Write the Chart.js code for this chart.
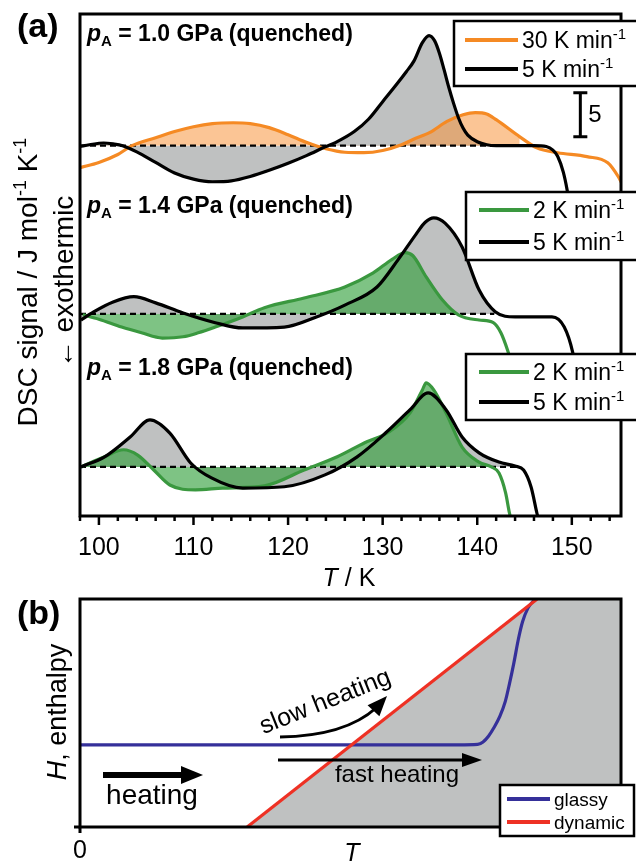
<!DOCTYPE html>
<html>
<head>
<meta charset="utf-8">
<script src="https://cdn.jsdelivr.net/npm/chart.js@4.4.1/dist/chart.umd.min.js"></script>
<style>
  html, body { margin: 0; padding: 0; background: #fff; }
  #wrap { position: relative; width: 636px; height: 862px; overflow: hidden; }
  canvas { position: absolute; left: 0; }
</style>
</head>
<body>
<div id="wrap">
  <canvas id="dsc" width="636" height="590" style="top:0;width:636px;height:590px"></canvas>
  <canvas id="enthalpy" width="636" height="272" style="top:590px;width:636px;height:272px"></canvas>
</div>
<script>
// ---------- (a) DSC scans, signal relative to each panel's baseline ----------
// p_A = 1.0 GPa, 30 K/min
const t10Fast = [98, 100, 102, 103.5, 106, 108, 110, 112, 114.2, 116, 118, 120, 122, 124, 126, 128, 130, 132, 133.2, 135, 136.8, 138.5, 139.8, 141, 142, 144.5, 146.3, 148.5, 151.6, 153.8, 154.9, 155.4];
const s10Fast = [-2.5, -1.9, -1.0, 0, 0.9, 1.6, 2.15, 2.5, 2.6, 2.5, 2.05, 1.25, 0.35, -0.35, -0.75, -0.8, -0.55, 0.1, 0.7, 1.5, 2.75, 3.5, 3.75, 3.6, 2.95, 1.0, -0.25, -0.8, -1.25, -1.95, -3.5, -4.5];
// p_A = 1.0 GPa, 5 K/min
const t10Ref = [98, 99, 100.5, 101.5, 102.5, 104, 106, 108, 110, 112, 114, 116, 118, 120, 122, 124, 125, 127, 128.5, 130, 131.5, 132.5, 133.3, 134.2, 134.9, 135.5, 136, 136.5, 137, 137.5, 138, 138.5, 139, 140, 141, 142, 146, 147.3, 148, 148.5, 149.1, 149.5, 149.8];
const s10Ref = [-0.1, 0.1, 0.3, 0.2, 0, -0.7, -1.9, -3.1, -3.8, -4.1, -4.0, -3.5, -2.8, -2.0, -1.1, -0.1, 0.35, 1.6, 3.0, 5.0, 7.0, 8.4, 9.6, 11.7, 12.5, 11.9, 10.5, 8.6, 6.6, 4.8, 3.2, 2.0, 1.2, 0.45, 0.1, 0, 0, -0.1, -0.5, -1.2, -3.0, -5.0, -7.0];
// p_A = 1.4 GPa, 2 K/min
const t14Slow = [98.3, 100, 102.4, 104.5, 106.7, 108.9, 110.5, 112.3, 115.2, 117.5, 121.7, 126, 129, 131, 132.4, 133.2, 134.6, 136.3, 138, 140.2, 141.7, 142.5, 143.2, 143.6];
const s14Slow = [-0.1, -0.6, -1.5, -2.15, -2.75, -2.6, -2.15, -1.5, -0.35, 0.7, 1.8, 3.05, 4.65, 6.2, 6.95, 6.6, 4.2, 1.6, -0.1, -0.7, -1.0, -2.15, -4.1, -5.5];
// p_A = 1.4 GPa, 5 K/min
const t14Ref = [98.1, 99.4, 101.5, 103.7, 106, 108.9, 112.3, 115.2, 119.6, 123, 126, 129.4, 131.6, 133.5, 134.5, 135.4, 136.6, 138.4, 140.2, 141.9, 144, 147.9, 149.2, 150.1, 150.6];
const s14Ref = [-0.7, 0.2, 1.35, 1.95, 1.25, 0.1, -1.0, -1.6, -1.5, -0.35, 1.0, 3.05, 6.1, 9.0, 10.4, 10.9, 10.3, 7.6, 2.7, 0.25, -0.35, -0.35, -1.5, -4.4, -7.5];
// p_A = 1.8 GPa, 2 K/min
const t18Slow = [98.1, 100.6, 102.6, 104.1, 105.8, 107.5, 110.2, 113.1, 117.5, 121.7, 125.2, 128.1, 130.7, 132.9, 134.2, 134.6, 135.4, 136.7, 138.4, 140.2, 141.5, 142.3, 143, 143.4, 143.7];
const s18Slow = [0, 1.15, 1.95, 1.35, -0.35, -2.05, -2.6, -2.4, -2.15, -0.35, 1.15, 2.75, 4.0, 6.15, 8.75, 9.55, 8.75, 6.15, 2.25, 0.55, 0, -0.7, -2.95, -5.2, -6.5];
// p_A = 1.8 GPa, 5 K/min
const t18Ref = [98.1, 100.6, 103.3, 105.4, 107.5, 109.7, 111.9, 115.2, 119.6, 123.9, 127.3, 130.3, 132.9, 134.8, 136.7, 138.4, 140.2, 142.3, 144, 144.9, 145.7, 146.3, 146.6];
const s18Ref = [0, 1.15, 3.4, 5.35, 3.85, 0.45, -1.25, -2.4, -2.25, -0.9, 1.15, 3.85, 6.5, 8.4, 6.5, 3.4, 1.6, 0.55, 0.1, -0.35, -2.3, -5.2, -6.5];

const pressures = ['1.0', '1.4', '1.8'];          // GPa
const panelOffsets = [42.05, 22.95, 5.57];         // vertical shift of each panel
const baselineStart = 98;
const baselineEnds = [146, 141.8, 144.5];
const rateLabels = [['30 K min', '5 K min'], ['2 K min', '5 K min'], ['2 K min', '5 K min']];
const xTickValues = [100, 110, 120, 130, 140, 150];
const scaleBarSize = 5;

// ---------- (b) schematic ----------
const glassyT = [0, 70, 73.5, 74.5, 75.5, 76.5, 77.6, 78.6, 79.4, 80.2, 81, 81.8, 82.8, 84.1];
const glassyH = [36, 36, 36.2, 37.3, 39.8, 43.5, 48.5, 55, 63, 72, 82, 90, 96, 100];
const dynamicT = [30.9, 84.5];
const dynamicH = [0, 100];
const regionT = [30.9, 84.5, 100];
const regionH = [0, 100, 100];

const FONT = "'Liberation Sans', Arial, Helvetica, sans-serif";
const ORANGE = '#f58a24', ORANGE_FILL = 'rgba(247,150,62,0.55)';
const GREEN = '#3a983f', GREEN_FILL = 'rgba(46,158,56,0.62)';
const GRAY = '#bfc1c1';
const RED = '#ee3124', BLUE = '#35309a';
const NONE = 'rgba(0,0,0,0)';

const toPoints = (ts, ss, off) => ts.map((t, i) => ({x: t, y: ss[i] + off}));

// fillEnd: where the shaded area stops (scan leaves the baseline)
const curves = [
  {panel: 0, t: t10Fast, s: s10Fast, color: ORANGE, fill: ORANGE_FILL, below: false, black: false, fillEnd: 146},
  {panel: 0, t: t10Ref,  s: s10Ref,  color: '#000', fill: GRAY, below: true, black: true, fillEnd: 146},
  {panel: 1, t: t14Slow, s: s14Slow, color: GREEN,  fill: GREEN_FILL, below: true, black: false, fillEnd: 138},
  {panel: 1, t: t14Ref,  s: s14Ref,  color: '#000', fill: GRAY, below: true, black: true, fillEnd: 141.9},
  {panel: 2, t: t18Slow, s: s18Slow, color: GREEN,  fill: GREEN_FILL, below: true, black: false, fillEnd: 141.5},
  {panel: 2, t: t18Ref,  s: s18Ref,  color: '#000', fill: GRAY, below: true, black: true, fillEnd: 144}
];

const dscDatasets = [];
curves.forEach(c => {
  const off = panelOffsets[c.panel];
  const pts = toPoints(c.t, c.s, off);
  // shaded area between scan and baseline
  dscDatasets.push({
    data: pts.filter(p => p.x <= c.fillEnd),
    borderWidth: 0,
    pointRadius: 0,
    cubicInterpolationMode: 'monotone',
    fill: {target: {value: off}, above: c.fill, below: c.below ? c.fill : NONE},
    order: c.black ? 50 : 40
  });
  // the scan itself
  dscDatasets.push({
    data: pts,
    borderColor: c.color,
    borderWidth: 3.2,
    pointRadius: 0,
    cubicInterpolationMode: 'monotone',
    fill: false,
    order: c.black ? 10 : 20
  });
});
panelOffsets.forEach((off, i) => {
  dscDatasets.push({
    data: [{x: baselineStart, y: off}, {x: baselineEnds[i], y: off}],
    borderColor: '#000',
    borderWidth: 2.2,
    borderDash: [6, 4],
    pointRadius: 0,
    fill: false,
    order: 30
  });
});

// draw text made of pieces with different fonts / offsets
function richWidth(ctx, parts) {
  let w = 0;
  parts.forEach(p => { ctx.font = p.f; w += ctx.measureText(p.t).width; });
  return w;
}
function drawRich(ctx, parts, x, y, align) {
  let cx = x;
  const w = richWidth(ctx, parts);
  if (align === 'center') cx = x - w / 2;
  ctx.textAlign = 'left';
  ctx.textBaseline = 'alphabetic';
  parts.forEach(p => {
    ctx.font = p.f;
    ctx.fillText(p.t, cx, y + (p.dy || 0));
    cx += ctx.measureText(p.t).width;
  });
}
function legendBox(ctx, x0, y0, w, h, items, lineX0, lineX1, textX, size) {
  ctx.fillStyle = '#fff';
  ctx.fillRect(x0, y0, w, h);
  ctx.lineWidth = 2.5;
  ctx.strokeStyle = '#000';
  ctx.strokeRect(x0, y0, w, h);
  items.forEach(it => {
    ctx.strokeStyle = it.color;
    ctx.lineWidth = 4;
    ctx.beginPath();
    ctx.moveTo(lineX0, it.y);
    ctx.lineTo(lineX1, it.y);
    ctx.stroke();
    ctx.fillStyle = '#000';
    drawRich(ctx, it.parts, textX, it.y + size * 0.36, 'left');
  });
}

const dscDecor = {
  id: 'dscDecor',
  afterDraw(chart) {
    const {ctx, chartArea: a, scales: {x, y}} = chart;
    ctx.save();
    ctx.fillStyle = '#000';
    ctx.strokeStyle = '#000';

    // frame
    ctx.lineWidth = 3;
    ctx.strokeRect(a.left, a.top, a.right - a.left, a.bottom - a.top);

    // tick marks (outward)
    ctx.lineWidth = 2.5;
    for (let v = 98; v <= 155; v += 2) {
      const px = x.getPixelForValue(v);
      const len = xTickValues.includes(v) ? 9 : 5;
      ctx.beginPath();
      ctx.moveTo(px, a.bottom);
      ctx.lineTo(px, a.bottom + len);
      ctx.stroke();
    }

    // scale bar
    const sbx = x.getPixelForValue(150.9);
    const sb0 = y.getPixelForValue(43.07);
    const sb1 = y.getPixelForValue(43.07 + scaleBarSize);
    ctx.lineWidth = 3;
    ctx.beginPath();
    ctx.moveTo(sbx, sb0); ctx.lineTo(sbx, sb1);
    ctx.moveTo(sbx - 7, sb0); ctx.lineTo(sbx + 7, sb0);
    ctx.moveTo(sbx - 7, sb1); ctx.lineTo(sbx + 7, sb1);
    ctx.stroke();
    ctx.font = '24px ' + FONT;
    ctx.textAlign = 'left';
    ctx.textBaseline = 'middle';
    ctx.fillText(String(scaleBarSize), sbx + 8, (sb0 + sb1) / 2 + 1);

    // panel captions
    const capBase = [41, 213, 375];
    pressures.forEach((p, i) => {
      drawRich(ctx, [
        {t: 'p', f: 'italic bold 23px ' + FONT},
        {t: 'A', f: 'bold 15px ' + FONT, dy: 5},
        {t: ' = ' + p + ' GPa (quenched)', f: 'bold 23px ' + FONT}
      ], 87, capBase[i], 'left');
    });

    // legends
    const sup = s => [{t: s, f: '23px ' + FONT}, {t: '-1', f: '15px ' + FONT, dy: -9}];
    const colors = [[ORANGE, '#000'], [GREEN, '#000'], [GREEN, '#000']];
    const boxes = [
      {x0: 454, y0: 21, h: 65, l0: 465, l1: 518, tx: 522, ys: [40, 69]},
      {x0: 466, y0: 192, h: 68, l0: 479, l1: 529, tx: 533, ys: [210, 242]},
      {x0: 466, y0: 354, h: 66, l0: 479, l1: 529, tx: 533, ys: [372, 402]}
    ];
    boxes.forEach((b, i) => {
      legendBox(ctx, b.x0, b.y0, 200, b.h, [
        {color: colors[i][0], y: b.ys[0], parts: sup(rateLabels[i][0])},
        {color: colors[i][1], y: b.ys[1], parts: sup(rateLabels[i][1])}
      ], b.l0, b.l1, b.tx, 23);
    });

    // axis titles
    ctx.fillStyle = '#000';
    drawRich(ctx, [{t: 'T', f: 'italic 25px ' + FONT}, {t: ' / K', f: '25px ' + FONT}], 349, 586, 'center');
    ctx.save();
    ctx.translate(0, 282);
    ctx.rotate(-Math.PI / 2);
    drawRich(ctx, [
      {t: 'DSC signal / J mol', f: '28px ' + FONT},
      {t: '-1', f: '18px ' + FONT, dy: -11},
      {t: ' K', f: '28px ' + FONT},
      {t: '-1', f: '18px ' + FONT, dy: -11}
    ], 0, 37, 'center');
    drawRich(ctx, [{t: '\u2190 exothermic', f: '28px ' + FONT}], 0, 73, 'center');
    ctx.restore();

    // panel tag
    ctx.font = 'bold 34px ' + FONT;
    ctx.textAlign = 'left';
    ctx.textBaseline = 'middle';
    ctx.fillText('(a)', 17, 28);
    ctx.restore();
  }
};

new Chart(document.getElementById('dsc'), {
  type: 'line',
  data: {datasets: dscDatasets},
  options: {
    responsive: false,
    devicePixelRatio: 1,
    animation: false,
    events: [],
    layout: {padding: {top: 14, right: 15, left: 0, bottom: 0}},
    plugins: {legend: {display: false}, tooltip: {enabled: false}},
    scales: {
      x: {
        type: 'linear',
        min: 98,
        max: 155.2,
        afterBuildTicks: s => { s.ticks = xTickValues.map(v => ({value: v})); },
        afterFit: s => { s.height = 74; },
        grid: {display: false, drawTicks: false},
        border: {display: false},
        ticks: {color: '#000', padding: 17, maxRotation: 0, font: {family: FONT, size: 25}}
      },
      y: {
        type: 'linear',
        min: 0,
        max: 57,
        afterFit: s => { s.width = 80; },
        grid: {display: false, drawTicks: false},
        border: {display: false},
        ticks: {display: false}
      }
    }
  },
  plugins: [dscDecor]
});

// ---------- panel (b) ----------
const hDecor = {
  id: 'hDecor',
  afterDraw(chart) {
    const {ctx, chartArea: a} = chart;
    ctx.save();
    ctx.fillStyle = '#000';
    ctx.strokeStyle = '#000';

    // frame
    ctx.lineWidth = 3;
    ctx.strokeRect(a.left, a.top, a.right - a.left, a.bottom - a.top);

    // ticks at origin
    ctx.beginPath();
    ctx.moveTo(a.left, a.bottom); ctx.lineTo(a.left, a.bottom + 6);
    ctx.moveTo(a.left - 6, a.bottom); ctx.lineTo(a.left, a.bottom);
    ctx.stroke();

    // straight arrows
    const arrow = (x0, x1, yy, lw, hl, hw) => {
      ctx.lineWidth = lw;
      ctx.beginPath();
      ctx.moveTo(x0, yy); ctx.lineTo(x1 - hl + 1, yy);
      ctx.stroke();
      ctx.beginPath();
      ctx.moveTo(x1, yy); ctx.lineTo(x1 - hl, yy - hw); ctx.lineTo(x1 - hl, yy + hw);
      ctx.closePath(); ctx.fill();
    };
    arrow(103, 203, 185, 6, 22, 9);
    arrow(278, 482, 170, 3, 20, 7);

    // curved "slow heating" arrow
    ctx.lineWidth = 3;
    ctx.beginPath();
    ctx.moveTo(280, 147);
    ctx.quadraticCurveTo(345, 146, 376, 118);
    ctx.stroke();
    ctx.save();
    ctx.translate(387, 106);
    ctx.rotate(Math.atan2(-12, 11));
    ctx.beginPath();
    ctx.moveTo(0, 0); ctx.lineTo(-20, -8); ctx.lineTo(-20, 8);
    ctx.closePath(); ctx.fill();
    ctx.restore();

    // annotation texts
    drawRich(ctx, [{t: 'heating', f: '28px ' + FONT}], 152, 214, 'center');
    drawRich(ctx, [{t: 'fast heating', f: '24px ' + FONT}], 397, 192, 'center');
    ctx.save();
    ctx.translate(325, 111);
    ctx.rotate(-21.7 * Math.PI / 180);
    drawRich(ctx, [{t: 'slow heating', f: '25px ' + FONT}], 0, 8, 'center');
    ctx.restore();

    // legend
    legendBox(ctx, 500, 195, 134, 51, [
      {color: BLUE, y: 209, parts: [{t: 'glassy', f: '19px ' + FONT}]},
      {color: RED, y: 232, parts: [{t: 'dynamic', f: '19px ' + FONT}]}
    ], 507, 550, 554, 19);

    // axis titles
    ctx.fillStyle = '#000';
    drawRich(ctx, [{t: 'T', f: 'italic 25px ' + FONT}], 352, 271, 'center');
    ctx.save();
    ctx.translate(0, 122);
    ctx.rotate(-Math.PI / 2);
    drawRich(ctx, [{t: 'H', f: 'italic 27px ' + FONT}, {t: ', enthalpy', f: '27px ' + FONT}], 0, 66, 'center');
    ctx.restore();

    ctx.font = 'bold 34px ' + FONT;
    ctx.textAlign = 'left';
    ctx.textBaseline = 'middle';
    ctx.fillText('(b)', 17, 25);
    ctx.restore();
  }
};

new Chart(document.getElementById('enthalpy'), {
  type: 'line',
  data: {
    datasets: [
      {
        data: regionT.map((t, i) => ({x: t, y: regionH[i]})),
        borderWidth: 0, pointRadius: 0, tension: 0,
        backgroundColor: GRAY, fill: 'start', order: 30
      },
      {
        data: dynamicT.map((t, i) => ({x: t, y: dynamicH[i]})),
        borderColor: RED, borderWidth: 3.2, pointRadius: 0, fill: false, order: 10
      },
      {
        data: glassyT.map((t, i) => ({x: t, y: glassyH[i]})),
        borderColor: BLUE, borderWidth: 3.2, pointRadius: 0, fill: false,
        cubicInterpolationMode: 'monotone', order: 20
      }
    ]
  },
  options: {
    responsive: false,
    devicePixelRatio: 1,
    animation: false,
    events: [],
    layout: {padding: {top: 9, right: 15, left: 0, bottom: 0}},
    plugins: {legend: {display: false}, tooltip: {enabled: false}},
    scales: {
      x: {
        type: 'linear', min: 0, max: 100,
        afterBuildTicks: s => { s.ticks = [{value: 0}]; },
        afterFit: s => { s.height = 35; },
        grid: {display: false, drawTicks: false},
        border: {display: false},
        ticks: {color: '#000', padding: 9, font: {family: FONT, size: 25}}
      },
      y: {
        type: 'linear', min: 0, max: 100,
        afterFit: s => { s.width = 80; },
        grid: {display: false, drawTicks: false},
        border: {display: false},
        ticks: {display: false}
      }
    }
  },
  plugins: [hDecor]
});
</script>
</body>
</html>
